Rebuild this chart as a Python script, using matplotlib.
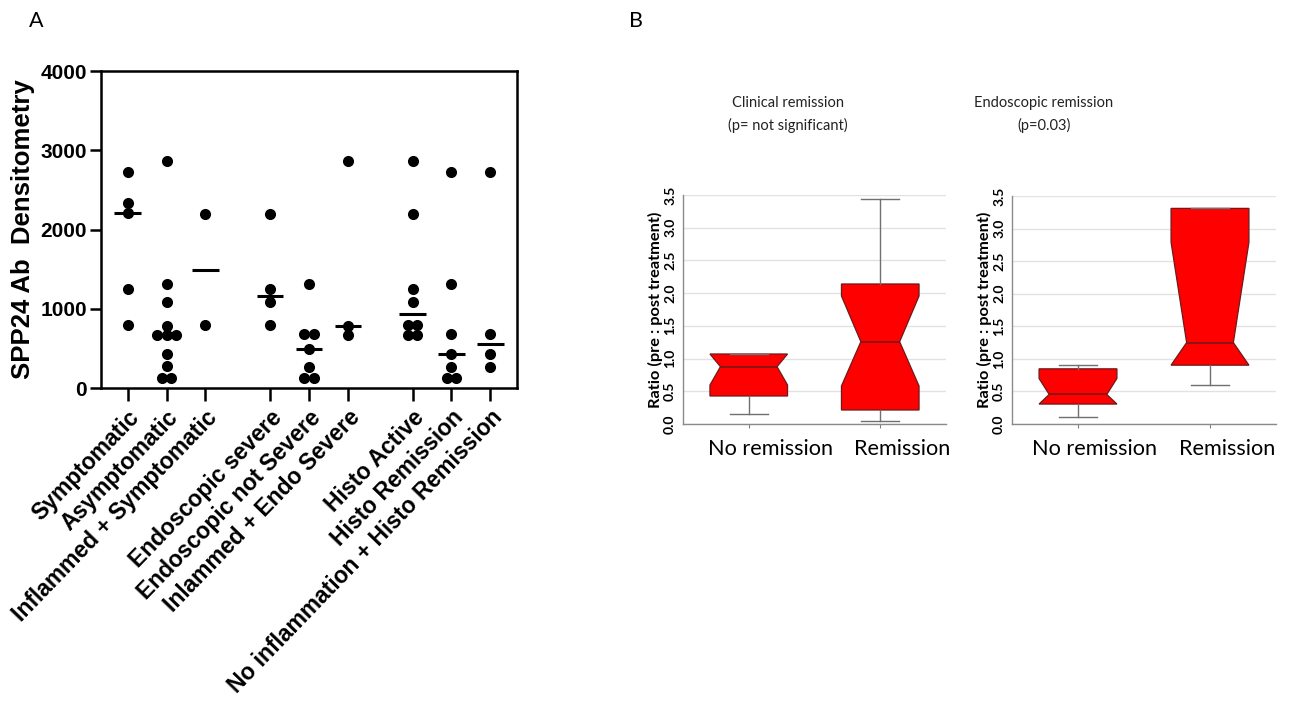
import numpy as np
import matplotlib
matplotlib.use("Agg")
import matplotlib.pyplot as plt

# ---------------- Data: panel A ----------------
groups_a = ["Symptomatic", "Asymptomatic", "Inflammed + Symptomatic",
            "Endoscopic severe", "Endoscopic not Severe", "Inlammed + Endo Severe",
            "Histo Active", "Histo Remission", "No inflammation + Histo Remission"]
cluster_a = [0, 0, 0, 1, 1, 1, 2, 2, 2]
symptomatic = [2729, 2330, 2204, 1251, 797]
asymptomatic = [2863, 1309, 1083, 785, 663, 663, 663, 432, 273, 126, 126]
inflamed_sympt = [2191, 797]
endo_severe = [2195, 1251, 1083, 797]
endo_not_severe = [1309, 680, 680, 495, 260, 126, 126]
inflamed_endo = [2863, 785, 663]
histo_active = [2863, 2191, 1251, 1083, 797, 797, 663, 663]
histo_remission = [2729, 1309, 680, 432, 260, 126, 126]
noinfl_histo_rem = [2729, 680, 432, 260]
values_a = [symptomatic, asymptomatic, inflamed_sympt, endo_severe, endo_not_severe,
            inflamed_endo, histo_active, histo_remission, noinfl_histo_rem]
yticks_a = [0, 1000, 2000, 3000, 4000]

# ---------------- Data: panel B ----------------
box_labels = ["No remission", "Remission"]
# clinical remission: [No remission, Remission]
clin_whislo = [0.148, 0.046]
clin_q1 = [0.428, 0.214]
clin_cilo = [0.596, 0.581]
clin_med = [0.876, 1.258]
clin_cihi = [1.070, 1.956]
clin_q3 = [1.070, 2.140]
clin_whishi = [1.070, 3.433]
# endoscopic remission
endo_whislo = [0.102, 0.597]
endo_q1 = [0.306, 0.903]
endo_cilo = [0.306, 0.903]
endo_med = [0.454, 1.250]
endo_cihi = [0.699, 2.790]
endo_q3 = [0.847, 3.310]
endo_whishi = [0.903, 3.310]
yticks_b = [0.0, 0.5, 1.0, 1.5, 2.0, 2.5, 3.0, 3.5]

W, H = 1290, 710
fig = plt.figure(figsize=(W / 100, H / 100), dpi=100)

def fax(l, t, r, b):
    return fig.add_axes([l / W, 1 - b / H, (r - l) / W, (b - t) / H])

# ---------------- Panel A ----------------
axA = fax(101, 71, 517, 388)
gap = 1.665
pos_a = []
p = 0.0
for i, c in enumerate(cluster_a):
    if i > 0:
        p += gap if c != cluster_a[i - 1] else 1.0
    pos_a.append(p)
xlim_a = (pos_a[0] - 0.687, pos_a[-1] + 0.687)
axA.set_xlim(*xlim_a)
axA.set_ylim(0, 4000)

ax_w_px = (517 - 101)
ax_h_px = (388 - 71)
px_per_x = ax_w_px / (xlim_a[1] - xlim_a[0])
px_per_y = ax_h_px / 4000.0
d_px = 9.5

def row_offsets(vals):
    vals = np.asarray(vals, float)
    order = np.argsort(-vals)
    offs = np.zeros(len(vals))
    rows = []
    for i in order:
        if rows and abs(vals[rows[-1][0]] - vals[i]) * px_per_y < 3:
            rows[-1].append(i)
        else:
            rows.append([i])
    for r in rows:
        k = len(r)
        for j, idx in enumerate(r):
            offs[idx] = (j - (k - 1) / 2) * d_px / px_per_x
    return offs

for x0, vals in zip(pos_a, values_a):
    offs = row_offsets(vals)
    axA.scatter(x0 + offs, vals, s=64, color="black", zorder=3, clip_on=False,
                linewidths=0)
    med = np.median(vals)
    axA.hlines(med, x0 - 0.34, x0 + 0.34, color="black", linewidth=2.2, zorder=4)

for s in axA.spines.values():
    s.set_linewidth(1.8)
axA.set_xticks(pos_a)
axA.set_xticklabels(groups_a, rotation=46, ha="right", rotation_mode="anchor",
                    fontsize=16.5, fontweight="bold", family="Liberation Sans")
axA.set_yticks(yticks_a)
axA.set_yticklabels([str(v) for v in yticks_a], fontsize=15, fontweight="bold",
                    family="Liberation Sans")
axA.tick_params(axis="x", direction="out", length=9, width=1.8, pad=4)
axA.tick_params(axis="y", direction="out", length=8, width=1.8, pad=2)
axA.set_ylabel("SPP24 Ab  Densitometry", fontsize=18.5, fontweight="bold",
               family="Liberation Sans", labelpad=4)

fig.text(36 / W, 1 - 21 / H, "A", fontsize=15.5, family="Lato", ha="center", va="center")
fig.text(636 / W, 1 - 21 / H, "B", fontsize=15.5, family="Lato", ha="center", va="center")

# ---------------- Panel B ----------------
def make_stats(whislo, q1, cilo, med, cihi, q3, whishi):
    out = []
    for i in range(len(med)):
        out.append(dict(whislo=whislo[i], q1=q1[i], cilo=cilo[i], med=med[i],
                        cihi=cihi[i], q3=q3[i], whishi=whishi[i], fliers=[]))
    return out

box_w = 0.59

def draw_box_panel(ax, stats, notch_frac, label_shift_px):
    positions = [1, 2]
    art = ax.bxp(stats, positions=positions, widths=box_w, capwidths=0.29,
                 shownotches=True, patch_artist=True, showfliers=False,
                 boxprops=dict(facecolor="#ff0000", edgecolor="#6e1a1a", linewidth=0.9),
                 medianprops=dict(color="#6e1a1a", linewidth=1.1),
                 whiskerprops=dict(color="#707070", linewidth=1.0),
                 capprops=dict(color="#707070", linewidth=1.0))
    # widen the notch waist to match the reference look
    for patch, med_line, x0, fr in zip(art["boxes"], art["medians"], positions, notch_frac):
        verts = patch.get_path().vertices
        verts[3, 0] = x0 + fr * box_w / 2
        verts[8, 0] = x0 - fr * box_w / 2
        med_line.set_xdata([x0 - fr * box_w / 2, x0 + fr * box_w / 2])
    ax.set_xlim(0.5, 2.5)
    ax.set_ylim(0, 3.5)
    ax.set_yticks(yticks_b)
    ax.set_yticklabels([f"{v:.1f}" for v in yticks_b], rotation=90, va="center",
                       fontsize=10, fontweight="bold", family="Lato")
    ax.set_xticks(positions)
    ax.set_xticklabels([])
    for x0, lab in zip(positions, box_labels):
        ax.annotate(lab, xy=(x0, 0), xycoords=("data", "axes fraction"),
                    xytext=(label_shift_px, -15), textcoords="offset pixels",
                    ha="center", va="top", fontsize=15.6, family="Lato")
    ax.tick_params(axis="x", length=3, color="#808080", pad=8)
    ax.tick_params(axis="y", length=0, pad=5)
    ax.grid(axis="y", color="#e2e2e2", linewidth=1.0)
    ax.set_axisbelow(True)
    for k in ["top", "right"]:
        ax.spines[k].set_visible(False)
    for k in ["left", "bottom"]:
        ax.spines[k].set_color("#8a8a8a")
        ax.spines[k].set_linewidth(1.0)
    ax.set_ylabel("Ratio (pre : post treatment)", fontsize=11.8, fontweight="bold",
                  family="Lato", labelpad=1)

axB1 = fax(683, 195, 946, 424)
draw_box_panel(axB1, make_stats(clin_whislo, clin_q1, clin_cilo, clin_med,
                                clin_cihi, clin_q3, clin_whishi), [0.73, 0.5], 22)
axB2 = fax(1012, 196, 1276, 424)
draw_box_panel(axB2, make_stats(endo_whislo, endo_q1, endo_cilo, endo_med,
                                endo_cihi, endo_q3, endo_whishi), [0.74, 0.6], 17)

fig.text(788 / W, 1 - 114.5 / H, "Clinical remission\n(p= not significant)", fontsize=10.5,
         family="Lato", ha="center", va="center", linespacing=1.7, color="#222222")
fig.text(1044 / W, 1 - 114.5 / H, "Endoscopic remission\n(p=0.03)", fontsize=10.5,
         family="Lato", ha="center", va="center", linespacing=1.7, color="#222222")

fig.savefig("out.png", dpi=100)
